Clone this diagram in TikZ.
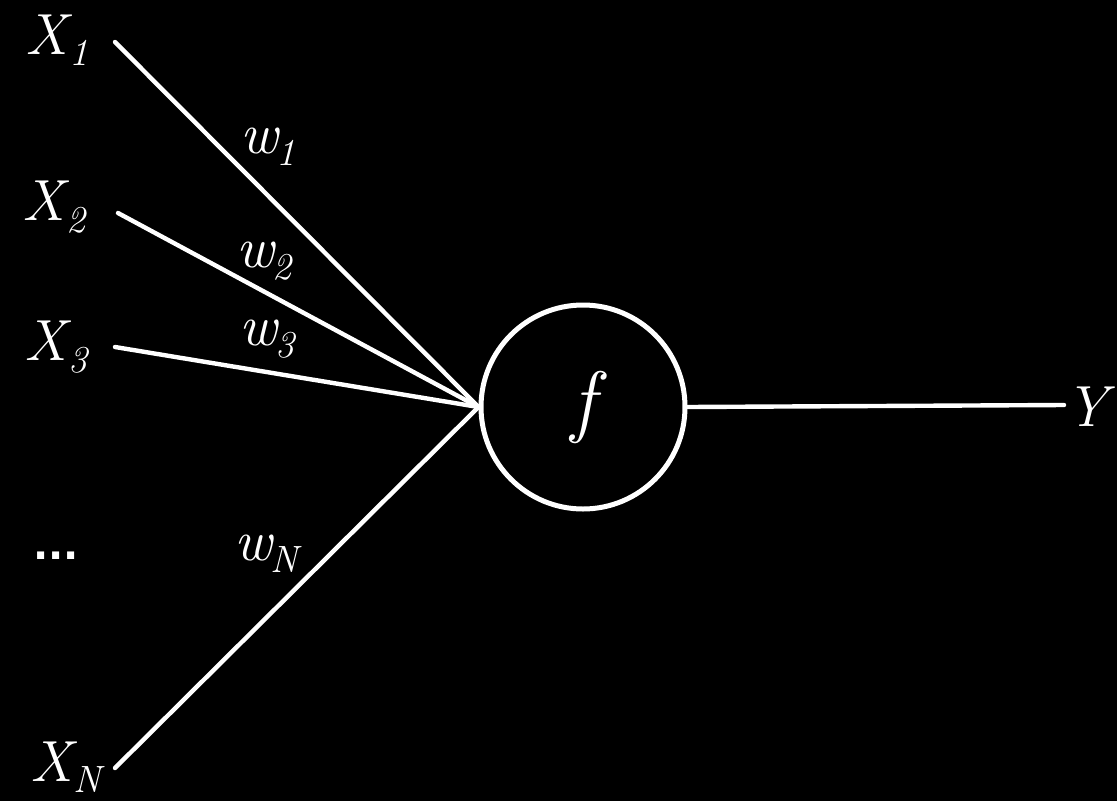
\documentclass[tikz,border=0pt]{standalone}
\usepackage{fontspec}
\newfontfamily\dotfont{DejaVu Sans}
\newcommand\mylab[2]{\textit{#1}\kern-0.06em\raisebox{-0.2em}{\fontsize{38}{40}\selectfont\textit{#2}}}
\begin{document}
\begin{tikzpicture}[x=1pt,y=-1pt,
  lbl/.style={text=white,inner sep=0pt,font=\fontsize{58}{60}\selectfont},
  wlbl/.style={text=white,inner sep=0pt,font=\fontsize{58}{60}\selectfont},
  wire/.style={draw=white,line width=4.4pt,line cap=round},
  neuron/.style={circle,draw=white,line width=5pt,minimum size=204pt,inner sep=0pt,text=white,font=\fontsize{80}{84}\selectfont\itshape}]
\fill[black] (0,0) rectangle (1117,801);
\useasboundingbox (0,0) rectangle (1117,801);
% nodes
\node[lbl] (x1) at (57,40) {\mylab{X}{1}};
\node[lbl] (x2) at (55,207) {\mylab{X}{2}};
\node[lbl] (x3) at (57,347) {\mylab{X}{3}};
\node[text=white,font=\dotfont\bfseries\fontsize{40}{42}\selectfont] (dots) at (56,556) {...};
\node[lbl] (xN) at (68,767) {\mylab{X}{N}};
\node[neuron] (N) at (583,407) {f};
\node[lbl,anchor=east] (Y) at (1116,407) {\textit{Y}};
\node[wlbl] (w1) at (268,147) {\mylab{w}{1}};
\node[wlbl] (w2) at (265,261) {\mylab{w}{2}};
\node[wlbl] (w3) at (268,339) {\mylab{w}{3}};
\node[wlbl] (wN) at (268,554) {\mylab{w}{N}};
% free ends
\coordinate (s1) at (115,42);
\coordinate (s2) at (118,213);
\coordinate (s3) at (115,347);
\coordinate (sN) at (115,768);
\coordinate (e) at (1064,405);
% connectors
\draw[wire] (s1) -- (N.west);
\draw[wire] (s2) -- (N.west);
\draw[wire] (s3) -- (N.west);
\draw[wire] (sN) -- (N.west);
\draw[wire] (N.east) -- (e);
\end{tikzpicture}
\end{document}
